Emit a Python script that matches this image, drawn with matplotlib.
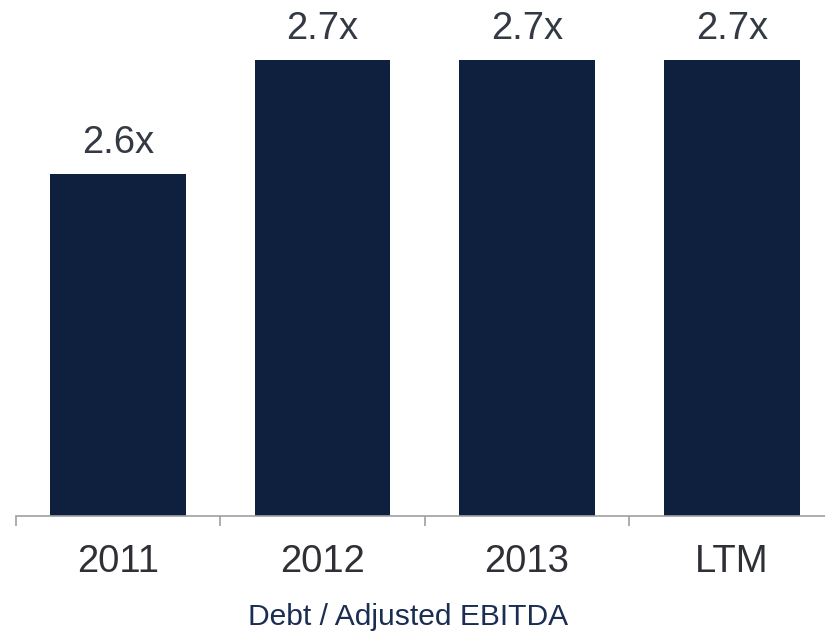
import matplotlib
matplotlib.use("Agg")
import matplotlib.pyplot as plt
import numpy as np

categories = ["2011", "2012", "2013", "LTM"]
values = [2.6, 2.7, 2.7, 2.7]
labels = ["2.6x", "2.7x", "2.7x", "2.7x"]

plt.rcParams['font.family'] = ['Liberation Sans', 'DejaVu Sans']

W, H = 825, 637
fig = plt.figure(figsize=(W/100, H/100), dpi=100)
ax_left = 15.5 / W
ax_right = 834 / W
ax_bottom = 1 - 516 / H
ax = fig.add_axes([ax_left, ax_bottom, ax_right - ax_left, 1 - ax_bottom])

x = np.arange(len(categories))
bar_color = "#0f203f"
ax.bar(x, values, width=0.663, color=bar_color, bottom=0)
ax.set_xlim(-0.5, 3.5)
ax.set_ylim(2.3, 2.3 + 516 / 1140)

for xi, v, lab in zip(x, values, labels):
    ax.annotate(lab, (xi, v), xytext=(0, 9), textcoords="offset points",
                ha="center", va="bottom", fontsize=27.5, color="#333a44")

for s in ["top", "right", "left"]:
    ax.spines[s].set_visible(False)
ax.spines["bottom"].set_color("#a0a0a0")
ax.spines["bottom"].set_linewidth(1.2)
ax.set_yticks([])
ax.set_xticks(np.arange(-0.5, 4.0, 1.0), minor=False)
ax.set_xticklabels([])
ax.tick_params(axis="x", which="major", length=7, width=1.2, color="#a0a0a0", direction="out")
ax.set_xticks(x, minor=True)
ax.set_xticklabels(categories, minor=True, fontsize=27.5, color="#2e3036")
ax.tick_params(axis="x", which="minor", length=0, pad=20)

fig.text(408 / W, 1 - 617 / H, "Debt / Adjusted EBITDA", ha="center", va="center",
         fontsize=21.6, color="#1b2d52")

fig.savefig("out.png", dpi=100)
